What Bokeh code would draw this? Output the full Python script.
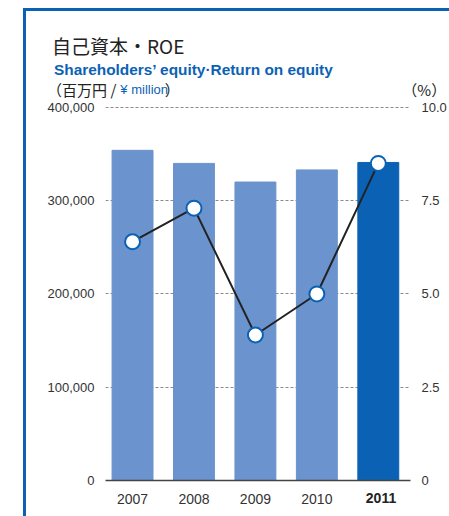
from bokeh.plotting import figure
from bokeh.models import (Range1d, LinearAxis, FixedTicker, NumeralTickFormatter,
                          Label, ColumnDataSource)
from bokeh.embed import file_html
from bokeh.resources import INLINE

# ---- data ----
years = [2007, 2008, 2009, 2010, 2011]
year_labels = ["2007", "2008", "2009", "2010", "2011"]
equity = [354000, 340000, 320000, 333000, 341000]
roe = [6.4, 7.3, 3.9, 5.0, 8.5]
bar_colors = ["#6b93cd", "#6b93cd", "#6b93cd", "#6b93cd", "#0b62b4"]
left_ticks = [0, 100000, 200000, 300000, 400000]
right_ticks = [0, 2.5, 5.0, 7.5, 10.0]
right_tick_labels = ["0", "2.5", "5.0", "7.5", "10.0"]

title_jp = "自己資本・ROE"
title_en = "Shareholders’ equity·Return on equity"
unit_jp = "（百万円 /\u3000\u3000\u3000   ）"
unit_en = "¥ million"
unit_right = "（%）"

LAT = "Liberation Sans"
CJK = "Noto Sans CJK JP"
BLUE = "#0b62b4"
TXT = "#333333"

# plot frame geometry (page pixels) and ranges
FL, FR, FT, FB = 104, 412, 106, 481
X0, X1 = 2006.56, 2011.524
Y1 = 401000


def xd(px):
    return X0 + (px - FL) * (X1 - X0) / (FR - FL)


def yd(py):
    return (FB - py) * Y1 / (FB - FT)


p = figure(width=449, height=516, output_backend="svg", toolbar_location=None,
           x_range=Range1d(X0, X1), y_range=Range1d(0, Y1),
           min_border_left=FL, min_border_right=449 - FR, min_border_top=FT,
           min_border_bottom=516 - FB, x_axis_location=None, y_axis_location=None)
p.outline_line_color = None
p.background_fill_color = "white"
p.border_fill_color = None
p.styles = {"background": (f"linear-gradient({BLUE}, {BLUE}) 23px 8px / 3px 520px no-repeat, "
                           f"linear-gradient({BLUE}, {BLUE}) 23px 8px / 440px 3px no-repeat, white")}
p.extra_y_ranges = {"roe": Range1d(0, 10.025)}

# grid
p.ygrid.ticker = FixedTicker(ticks=left_ticks)
p.ygrid.grid_line_color = "#8a8a8a"
p.ygrid.grid_line_dash = "3 2"
p.ygrid.grid_line_width = 1
p.xgrid.grid_line_color = None

# left axis
ly = LinearAxis(ticker=FixedTicker(ticks=left_ticks), formatter=NumeralTickFormatter(format="0,0"))
ly.axis_line_color = None
ly.major_tick_line_color = None
ly.minor_tick_line_color = None
ly.major_label_standoff = 5
ly.major_label_text_font = LAT
ly.major_label_text_font_size = "13px"
ly.major_label_text_color = TXT
p.add_layout(ly, "left")

# right axis
ry = LinearAxis(y_range_name="roe", ticker=FixedTicker(ticks=right_ticks),
                major_label_overrides={t: s for t, s in zip(right_ticks, right_tick_labels)})
ry.axis_line_color = None
ry.major_tick_line_color = None
ry.minor_tick_line_color = None
ry.major_label_standoff = 5
ry.major_label_text_font = LAT
ry.major_label_text_font_size = "13px"
ry.major_label_text_color = TXT
p.add_layout(ry, "right")

# bottom axis
bx = LinearAxis(ticker=FixedTicker(ticks=years),
                major_label_overrides={y: (l if y != 2011 else "") for y, l in zip(years, year_labels)})
bx.axis_line_color = "#444444"
bx.axis_line_width = 1.5
bx.major_tick_line_color = None
bx.minor_tick_line_color = None
bx.major_label_standoff = 7
bx.major_label_text_font = LAT
bx.major_label_text_font_size = "14px"
bx.major_label_text_color = TXT
p.add_layout(bx, "below")

src = ColumnDataSource(dict(x=years, eq=equity, roe=roe, c=bar_colors))
p.vbar(x="x", top="eq", bottom=0, width=0.666, color="c", source=src)
p.line(x="x", y="roe", source=src, y_range_name="roe", line_color="#222222", line_width=2)
p.scatter(x="x", y="roe", source=src, y_range_name="roe", size=15,
          fill_color="white", line_color=BLUE, line_width=2)

# bold 2011 label (below panel)
p.add_layout(Label(x=275.5, y=19, x_units="screen", y_units="screen", text=year_labels[-1],
                   text_align="center", text_baseline="middle", text_font=LAT,
                   text_font_style="bold", text_font_size="14px", text_color="#222222"), "below")

# header texts (side panels, positioned in data units so they are not clipped)
p.add_layout(Label(x=xd(50), y=yd(45), text=title_jp, text_font=CJK, text_font_size="19px",
                   text_color="#222222", text_baseline="middle"), "above")
p.add_layout(Label(x=xd(52), y=yd(69), text=title_en, text_font=LAT, text_font_style="bold",
                   text_font_size="15.4px", text_color=BLUE, text_baseline="alphabetic"), "above")
p.add_layout(Label(x=xd(45), y=yd(89), text=unit_jp, text_font=CJK, text_font_size="15px",
                   text_color="#222222", text_baseline="middle"), "above")
p.add_layout(Label(x=xd(119), y=yd(89), text=unit_en, text_font=LAT, text_font_size="13px",
                   text_color=BLUE, text_baseline="middle"), "above")
p.add_layout(Label(x=xd(448), y=yd(89), text=unit_right, text_font=CJK, text_font_size="15px",
                   text_color="#222222", text_baseline="middle", text_align="right"), "left")

open("out.html", "w").write(file_html(p, INLINE))
